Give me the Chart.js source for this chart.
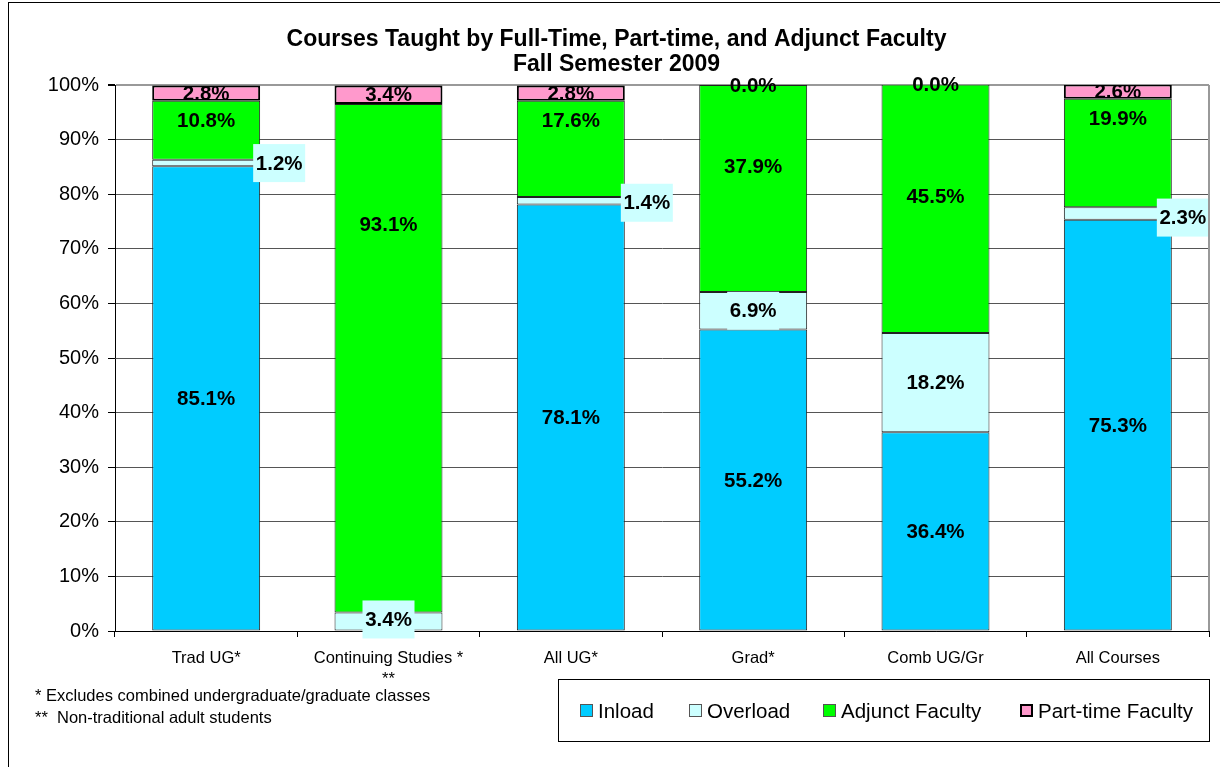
<!DOCTYPE html>
<html>
<head>
<meta charset="utf-8">
<script src="https://cdn.jsdelivr.net/npm/chart.js@4.4.1/dist/chart.umd.min.js"></script>
<style>
  body { margin: 0; background: #fff; font-family: "Liberation Sans", Arial, sans-serif; }
  #wrap { position: relative; width: 1220px; height: 767px; }
  #frame { position: absolute; left: 8px; top: 2px; width: 1230px; height: 800px; border: 1px solid #000; pointer-events: none; }
  .note { position: absolute; left: 35px; font-size: 16.5px; color: #000; white-space: pre; }
  #legend { position: absolute; left: 558px; top: 679px; width: 652px; height: 63px; box-sizing: border-box;
            border: 1px solid #000; background: #fff; }
  .item { position: absolute; top: 0; height: 61px; display: flex; align-items: center; font-size: 20.5px; color: #000; white-space: nowrap; }
  .sw { width: 13px; height: 13px; box-sizing: border-box; margin-right: 5px; }
</style>
</head>
<body>
<div id="wrap">
  <canvas id="chamadosChart" width="1220" height="767"></canvas>
  <div id="frame"></div>
  <div class="note" style="top:686px">* Excludes combined undergraduate/graduate classes</div>
  <div class="note" style="top:708px">**  Non-traditional adult students</div>
  <div id="legend"></div>
</div>
<script>
// dados do gráfico
const categorias = ['Trad UG*', ['Continuing Studies *', '**'], 'All UG*', 'Grad*', 'Comb UG/Gr', 'All Courses'];
const inload = [85.1, 0, 78.1, 55.2, 36.4, 75.3];
const overload = [1.2, 3.4, 1.4, 6.9, 18.2, 2.3];
const adjunct = [10.8, 93.1, 17.6, 37.9, 45.5, 19.9];
const partTime = [2.8, 3.4, 2.8, 0.0, 0.0, 2.6];
const yTicks = [0, 10, 20, 30, 40, 50, 60, 70, 80, 90, 100];

const fonte = '"Liberation Sans", Arial, sans-serif';

// rótulos movidos à mão (como no original), em pixels
const ajusteOverload = [[73, 0], [0, -2], [76, 2], [0, 0], [0, 0], [65, 4]];
const ajusteAdjunct = [[0, -10], [0, -134], [0, -29], [0, -22], [0, -12], [0, -35]];
// posição x de cada item dentro da caixa da legenda
const posLegenda = [21, 130, 264, 461];

const series = [
    { label: 'Inload', data: inload, backgroundColor: '#00CCFF', borderColor: '#222', borderWidth: 1 },
    { label: 'Overload', data: overload, backgroundColor: '#CCFFFF', borderColor: '#222', borderWidth: 1,
      nudge: ajusteOverload, labelBox: '#CCFFFF' },
    { label: 'Adjunct Faculty', data: adjunct, backgroundColor: '#00FF00', borderColor: '#222', borderWidth: 1,
      nudge: ajusteAdjunct },
    { label: 'Part-time Faculty', data: partTime, backgroundColor: '#FF99CC', borderColor: '#000', borderWidth: 2,
      showZero: true, clipLabel: true }
];

// rótulos de valor
const rotulos = {
    id: 'rotulos',
    afterDatasetsDraw(chart) {
        const ctx = chart.ctx;
        chart.data.datasets.forEach((ds, di) => {
            const meta = chart.getDatasetMeta(di);
            meta.data.forEach((bar, i) => {
                const v = ds.data[i];
                if (v === 0 && !ds.showZero) return;
                const n = (ds.nudge && ds.nudge[i]) || [0, 0];
                const x = bar.x + n[0];
                const y = (bar.y + bar.base) / 2 + n[1];
                const txt = v.toFixed(1) + '%';
                ctx.save();
                ctx.font = 'bold 20.5px ' + fonte;
                ctx.textAlign = 'center';
                ctx.textBaseline = 'middle';
                if (ds.labelBox) {
                    ctx.fillStyle = ds.labelBox;
                    ctx.fillRect(x - 26, y - 19, 52, 38);
                }
                if (ds.clipLabel && v > 0) {
                    ctx.beginPath();
                    ctx.rect(bar.x - bar.width / 2, bar.y + 1, bar.width, bar.base - bar.y - 2);
                    ctx.clip();
                }
                ctx.fillStyle = '#000';
                ctx.fillText(txt, x, y + 1);
                ctx.restore();
            });
        });
    }
};

// fundo e borda direita da área do gráfico
const moldura = {
    id: 'moldura',
    beforeDraw(chart) {
        const ctx = chart.ctx;
        ctx.save();
        ctx.fillStyle = '#fff';
        ctx.fillRect(0, 0, chart.width, chart.height);
        ctx.restore();
    },
    afterDraw(chart) {
        const a = chart.chartArea;
        const ctx = chart.ctx;
        ctx.save();
        ctx.strokeStyle = '#999';
        ctx.lineWidth = 2;
        ctx.beginPath();
        ctx.moveTo(a.right, a.top);
        ctx.lineTo(a.right, a.bottom);
        ctx.stroke();
        ctx.restore();
    }
};

const ctx = document.getElementById('chamadosChart').getContext('2d');
const chamadosChart = new Chart(ctx, {
    type: 'bar',
    data: {
        labels: categorias,
        datasets: series.map(s => Object.assign({ borderSkipped: false, barPercentage: 0.592, categoryPercentage: 1 }, s))
    },
    options: {
        responsive: false,
        animation: false,
        layout: { padding: { left: 24, right: 11, top: 0, bottom: 0 } },
        plugins: {
            legend: { display: false },
            tooltip: { enabled: false },
            title: {
                display: true,
                text: ['Courses Taught by Full-Time, Part-time, and Adjunct Faculty', 'Fall Semester 2009'],
                color: '#000',
                font: { family: fonte, size: 23, weight: 'bold', lineHeight: 1.087 },
                padding: { top: 27, bottom: 8 }
            }
        },
        scales: {
            x: {
                stacked: true,
                afterFit: s => { s.height = 136; },
                border: { color: '#000', width: 1 },
                grid: { display: true, drawOnChartArea: false, drawTicks: true, tickLength: 6, color: '#000', offset: true },
                ticks: { color: '#000', font: { family: fonte, size: 16.5, lineHeight: 1.28 }, padding: 11, maxRotation: 0 }
            },
            y: {
                stacked: true,
                min: 0,
                max: 100,
                afterFit: s => { s.width = 91; },
                afterBuildTicks: s => { s.ticks = yTicks.map(v => ({ value: v })); },
                border: { color: '#000', width: 1 },
                grid: {
                    color: c => c.tick && c.tick.value === 100 ? '#999' : '#555',
                    lineWidth: c => c.tick && c.tick.value === 100 ? 2 : 1,
                    tickColor: '#000',
                    tickLength: 7
                },
                ticks: { color: '#000', font: { family: fonte, size: 20 }, padding: 9, callback: v => v + '%' }
            }
        }
    },
    plugins: [moldura, rotulos]
});

// legenda em HTML, montada a partir das séries
const legenda = document.getElementById('legend');
series.forEach((s, i) => {
    const item = document.createElement('div');
    item.className = 'item';
    item.style.left = posLegenda[i] + 'px';
    const sw = document.createElement('span');
    sw.className = 'sw';
    sw.style.background = s.backgroundColor;
    sw.style.border = (s.borderWidth > 1 ? '2px' : '1px') + ' solid ' + (s.borderWidth > 1 ? '#000' : '#555');
    item.appendChild(sw);
    item.appendChild(document.createTextNode(s.label));
    legenda.appendChild(item);
});
</script>
</body>
</html>
